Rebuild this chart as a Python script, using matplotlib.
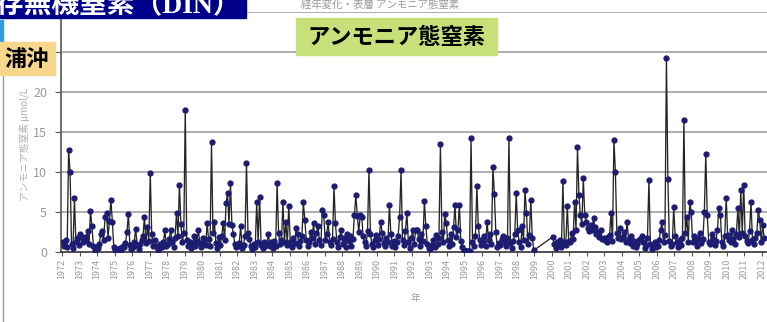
import matplotlib
matplotlib.use("Agg")
import matplotlib.pyplot as plt
from matplotlib.patches import Rectangle

plt.rcParams['font.family'] = ['Noto Sans CJK JP', 'DejaVu Sans']

# Monthly ammonium-nitrogen (μmol/L), Jan..Dec; None = not observed
y1972 = [1.2, 0.8, 1.5, 0.6, 12.8, 10.0, 1.0, 0.5, 6.8, 1.2, 1.8, 0.9]
y1973 = [2.3, 1.8, 1.2, 1.9, 1.5, 2.6, 1.0, 5.1, 3.2, 0.8, 0.2, 0.6]
y1974 = [0.5, 1.0, 2.2, 2.6, 1.5, 4.4, 4.9, 1.8, 3.9, 6.5, 3.8, 0.6]
y1975 = [0.3, 0.2, 0.4, 0.5, 0.3, 0.8, 0.6, 1.1, 2.5, 4.8, 0.9, 0.4]
y1976 = [0.6, 1.2, 2.9, 0.9, 0.4, 1.0, 1.5, 2.0, 4.4, 1.1, 3.1, 1.4]
y1977 = [9.9, 2.2, 0.8, 1.5, 0.7, 0.3, 0.5, 1.0, 0.6, 1.2, 2.7, 0.8]
y1978 = [1.0, 1.6, 2.8, 1.2, 0.6, 1.8, 4.9, 2.0, 8.4, 3.5, 1.2, 2.4]
y1979 = [17.8, 1.5, 0.8, 1.2, 0.5, 1.0, 2.0, 0.7, 1.4, 2.7, 1.1, 0.6]
y1980 = [1.8, 1.2, 0.9, 3.6, 1.6, 0.8, 13.7, 2.4, 3.7, 1.1, 0.5, 1.9]
y1981 = [0.9, 2.0, 3.6, 1.5, 6.1, 7.4, 3.5, 8.6, 3.4, 2.2, 1.0, 0.6]
y1982 = [0.8, 1.1, 3.2, 0.5, 0.9, 2.0, 11.1, 2.4, 1.6, 0.7, 0.4, 1.0]
y1983 = [0.6, 6.3, 1.2, 6.9, 0.9, 0.5, 1.3, 0.8, 1.1, 2.3, 0.7, 1.2]
y1984 = [0.5, 1.4, 0.8, 8.6, 2.4, 1.0, 1.5, 6.2, 1.2, 3.8, 0.9, 5.8]
y1985 = [1.3, 0.6, 1.8, 1.1, 3.0, 2.2, 0.8, 1.4, 2.0, 6.2, 4.0, 1.5]
y1986 = [0.7, 1.2, 2.5, 1.8, 3.6, 1.0, 2.4, 3.2, 1.5, 0.9, 5.3, 4.6]
y1987 = [1.5, 2.2, 3.8, 1.3, 0.9, 1.6, 8.2, 3.6, 1.2, 0.6, 1.9, 2.7]
y1988 = [1.0, 1.8, 0.6, 2.3, 1.4, 2.0, 0.8, 1.6, 4.6, 7.1, 4.5, 2.5]
y1989 = [4.6, 4.4, 2.0, 1.2, 0.8, 2.6, 10.3, 2.3, 1.0, 0.6, 1.5, 2.1]
y1990 = [0.9, 1.6, 3.8, 2.4, 1.1, 0.7, 1.8, 1.2, 5.9, 2.3, 0.8, 1.4]
y1991 = [0.6, 1.2, 2.0, 4.4, 10.2, 1.5, 0.9, 2.6, 4.9, 1.3, 0.5, 1.8]
y1992 = [2.7, 1.0, 2.7, 2.8, 1.6, 0.8, 2.2, 1.4, 6.4, 3.2, 1.0, 0.5]
y1993 = [0.4, 0.9, 1.5, 0.6, 2.1, 1.0, 1.8, 13.5, 2.5, 1.2, 4.8, 3.6]
y1994 = [1.5, 0.8, 2.2, 1.0, 3.1, 5.9, 1.9, 2.8, 5.9, 1.4, 0.6, 0.3]
y1995 = [0.1, 0.1, 0.1, 0.1, 14.2, 1.2, 0.8, 2.0, 8.2, 3.2, 1.5, 0.9]
y1996 = [1.2, 2.0, 0.8, 3.8, 1.5, 2.2, 1.0, 10.6, 7.3, 2.5, 0.6, 1.1]
y1997 = [0.9, 1.6, 2.0, 1.3, 0.7, 1.8, 14.3, 1.1, 0.5, 1.4, 2.2, 7.4]
y1998 = [2.7, 1.2, 0.6, 3.2, 1.5, 7.8, 4.9, 1.0, 2.1, 6.5, 1.8, 0.2]
y1999 = [None] * 12
y2000 = [1.9, 1.0, 0.5, 1.2, 0.8, 1.5, 0.6, 8.9, 1.3, 0.9, 5.8, 1.4]
y2001 = [1.2, 2.4, 1.6, 6.3, 2.8, 13.1, 7.1, 4.6, 3.5, 9.2, 4.6, 3.8]
y2002 = [3.0, 2.6, 3.4, 2.8, 4.2, 3.1, 2.2, 2.5, 1.9, 2.7, 1.6, 1.8]
y2003 = [1.5, 1.2, 1.9, 2.1, 4.9, 1.4, 14.0, 10.0, 2.4, 1.8, 3.0, 1.6]
y2004 = [1.9, 2.5, 1.3, 3.8, 1.6, 1.1, 2.0, 0.8, 1.4, 0.6, 1.0, 1.5]
y2005 = [1.6, 2.0, 1.2, 0.5, 0.9, 1.8, 9.0, 1.0, 0.4, 0.7, 1.3, 0.6]
y2006 = [0.8, 1.5, 2.7, 3.8, 1.2, 2.1, 24.2, 9.1, 1.4, 0.7, 1.0, 5.6]
y2007 = [2.0, 1.2, 0.6, 1.5, 0.9, 1.8, 16.5, 2.4, 4.4, 1.3, 6.3, 5.0]
y2008 = [1.2, 2.0, 1.5, 0.8, 1.8, 2.4, 1.1, 1.6, 5.0, 12.3, 4.6, 1.3]
y2009 = [1.0, 2.2, 1.6, 0.9, 1.4, 2.8, 5.5, 4.6, 1.2, 0.8, 2.0, 6.8]
y2010 = [2.1, 1.5, 1.2, 2.8, 1.6, 1.0, 2.3, 5.5, 1.9, 7.8, 2.4, 8.4]
y2011 = [2.0, 1.4, 1.1, 2.6, 6.3, 1.5, 1.0, 1.8, 2.4, 5.3, 4.0, 1.2]
y2012 = [3.4, 1.8]

series = [y1972, y1973, y1974, y1975, y1976, y1977, y1978, y1979,
          y1980, y1981, y1982, y1983, y1984, y1985, y1986, y1987,
          y1988, y1989, y1990, y1991, y1992, y1993, y1994, y1995,
          y1996, y1997, y1998, y1999, y2000, y2001, y2002, y2003,
          y2004, y2005, y2006, y2007, y2008, y2009, y2010, y2011, y2012]
first_year = 1972
tick_years = list(range(1972, 2013))
y_ticks = [0, 5, 10, 15, 20, 25, 30]
y_ticklabels = ['0', '5', '10', '15', '20', '', '']  # upper labels sit under the slide labels

# Build decimal-year time axis (mid-month), dropping missing months
t, v = [], []
for i, months in enumerate(series):
    for m, val in enumerate(months):
        if val is not None:
            t.append(first_year + i + (m + 0.5) / 12)
            v.append(val)

W, H = 767, 322
fig = plt.figure(figsize=(W / 100, H / 100), dpi=100)
fig.patch.set_facecolor('white')


def fx(x):
    return x / W


def fy(y):
    return 1 - y / H


ax = fig.add_axes([fx(61), fy(252), fx(767) - fx(61), fy(12) - fy(252)])
ax.plot(t, v, color='#262626', lw=0.95, zorder=3)
ax.plot(t, v, ls='none', marker='o', ms=3.5, color='#1c1c72',
        mec='#1c1c72', zorder=4)

ax.set_xlim(1971.94, 2012.29)
ax.set_ylim(0, 30)
ax.set_yticks(y_ticks)
ax.set_yticklabels(y_ticklabels, fontsize=9, color='#9a9a9a')
ax.set_xticks(tick_years)
ax.set_xticklabels([str(k) for k in tick_years], rotation=90,
                   fontsize=6.5, color='#9a9a9a')
for yv in y_ticks[1:]:
    ax.axhline(yv, color='#a8a8a8', lw=1.3, zorder=1)
for s in ['top', 'right']:
    ax.spines[s].set_visible(False)
ax.spines['left'].set_color('#555555')
ax.spines['left'].set_linewidth(1.2)
ax.spines['bottom'].set_color('#333333')
ax.spines['bottom'].set_linewidth(1.2)
ax.tick_params(axis='y', length=4, color='#555555', pad=6)
ax.tick_params(axis='x', length=3, color='#555555', pad=2)
ax.set_facecolor('white')

# axis captions
fig.text(fx(25), fy(145), 'アンモニア態窒素 μmol/L', rotation=90,
         ha='center', va='center', fontsize=7, color='#b0b0b0')
fig.text(fx(415), fy(298), '年', ha='center', va='center',
         fontsize=7, color='#a0a0a0')
fig.text(fx(380), fy(5), '経年変化・表層 アンモニア態窒素', ha='center',
         va='center', fontsize=7.5, color='#9a9a9a')

# slide frame line on the left
fig.add_artist(Rectangle((0, fy(43)), fx(3), fy(20) - fy(43),
                         transform=fig.transFigure, color='#2f9be0',
                         zorder=10))
fig.add_artist(plt.Line2D([fx(2.5), fx(2.5)], [0, fy(75)],
                          transform=fig.transFigure, color='#9a9a9a',
                          lw=1.0, zorder=10))

# title banner
fig.add_artist(Rectangle((0, fy(18)), fx(246), fy(0) - fy(18) + 0.01,
                         transform=fig.transFigure, color='#00008a',
                         zorder=10))
fig.text(fx(241), fy(5), '溶存無機窒素（DIN）', ha='right', va='center',
         fontsize=20, fontweight='bold', color='white',
         family=['Liberation Serif', 'Noto Sans CJK JP'], zorder=11)

# station label
fig.add_artist(Rectangle((0, fy(75)), fx(55), fy(42) - fy(75),
                         transform=fig.transFigure, color='#f8d68c',
                         zorder=10))
fig.text(fx(49), fy(59), '浦沖', ha='right', va='center', fontsize=16,
         fontweight='bold', color='black', zorder=11)

# parameter label
fig.add_artist(Rectangle((fx(296), fy(55)), fx(497) - fx(296), fy(18) - fy(55),
                         transform=fig.transFigure, color='#c7e07a',
                         zorder=10))
fig.text(fx(396), fy(37), 'アンモニア態窒素', ha='center', va='center',
         fontsize=16, fontweight='bold', color='black', zorder=11)

fig.savefig('out.png', dpi=100)
